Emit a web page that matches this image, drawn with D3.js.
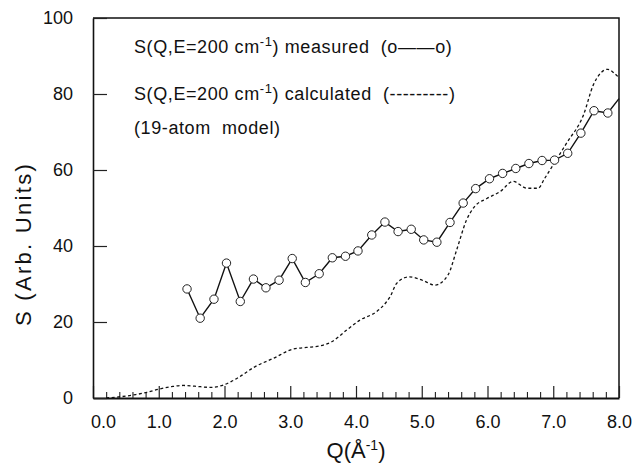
<!DOCTYPE html>
<html>
<head>
<meta charset="utf-8">
<script src="https://cdn.jsdelivr.net/npm/d3@7"></script>
<style>
  html, body { margin: 0; padding: 0; background: #fff; }
  svg { display: block; }
  .tick text { font-family: "Liberation Sans", Arial, sans-serif; font-size: 18px; fill: #111; }
  .legend { white-space: pre; }
</style>
</head>
<body>
<svg id="chart" width="641" height="467"></svg>
<script>
// Measured S(Q, E = 200 cm-1): momentum transfer Q (1/Å) and intensity
const measuredQ = [1.43, 1.63, 1.84, 2.03, 2.24, 2.44, 2.63, 2.83, 3.03, 3.23,
                   3.44, 3.64, 3.84, 4.03, 4.24, 4.44, 4.64, 4.84, 5.03, 5.23,
                   5.43, 5.63, 5.82, 6.03, 6.23, 6.43, 6.63, 6.83, 7.02, 7.22,
                   7.42, 7.62, 7.83];
const measuredS = [28.7, 21.0, 26.0, 35.5, 25.4, 31.3, 29.0, 31.0, 36.7, 30.4,
                   32.7, 36.9, 37.3, 38.7, 42.9, 46.3, 43.8, 44.4, 41.6, 41.0,
                   46.2, 51.3, 55.1, 57.7, 59.1, 60.4, 61.7, 62.5, 62.6, 64.4,
                   69.7, 75.6, 75.0];
// the measured trace runs on to the frame edge past the last circle
const measuredTailQ = 8.0;
const measuredTailS = 78.8;

// Calculated S(Q, E = 200 cm-1), 19-atom model
const calcQ = [0.2, 0.45, 0.65, 0.82, 1.02, 1.2, 1.37, 1.55, 1.78, 1.98,
               2.1, 2.23, 2.46, 2.74, 3.05, 3.25, 3.45, 3.63, 3.86, 4.06,
               4.31, 4.45, 4.52, 4.62, 4.81, 5.02, 5.2, 5.4, 5.53, 5.68,
               5.8, 5.99, 6.19, 6.39, 6.6, 6.77, 6.87, 7.03, 7.2, 7.46,
               7.61, 7.72, 7.83, 7.92, 8.0];
const calcS = [0.0, 0.4, 0.9, 1.5, 2.4, 3.0, 3.3, 3.1, 2.8, 3.4,
               4.3, 5.6, 8.2, 10.4, 12.9, 13.3, 13.7, 14.8, 17.9, 20.5,
               22.7, 25.0, 26.7, 30.2, 31.9, 30.9, 29.7, 32.4, 38.9, 46.8,
               50.3, 52.5, 54.3, 57.0, 55.2, 55.2, 57.8, 62.2, 67.0, 74.5,
               82.4, 85.5, 86.5, 85.6, 84.3];

const xTicks = [0, 1, 2, 3, 4, 5, 6, 7, 8];
const xTickLabels = ["0.0", "1.0", "2.0", "3.0", "4.0", "5.0", "6.0", "7.0", "8.0"];
const xMinorTicks = [0.2, 0.4, 0.6, 0.8, 1.2, 1.4, 1.6, 1.8, 2.2, 2.4, 2.6, 2.8,
                     3.2, 3.4, 3.6, 3.8, 4.2, 4.4, 4.6, 4.8, 5.2, 5.4, 5.6, 5.8,
                     6.2, 6.4, 6.6, 6.8, 7.2, 7.4, 7.6, 7.8];
const yTicks = [0, 20, 40, 60, 80, 100];
const yTickLabels = ["0", "20", "40", "60", "80", "100"];

const svg = d3.select("#chart");
const plotL = 93, plotR = 619, plotT = 18, plotB = 398;

const x = d3.scaleLinear().domain([0, 8]).range([plotL, plotR]);
const y = d3.scaleLinear().domain([0, 100]).range([plotB, plotT]);

// frame: top and right edges
svg.append("path")
  .attr("d", `M${plotL},${plotT}H${plotR}V${plotB}`)
  .attr("fill", "none").attr("stroke", "#111").attr("stroke-width", 1.5);

// x axis, major and minor ticks pointing into the plot
const xAxis = svg.append("g").attr("transform", `translate(0,${plotB})`)
  .call(d3.axisBottom(x).tickValues(xTicks)
    .tickFormat((d, i) => xTickLabels[i])
    .tickSizeInner(-12).tickSizeOuter(0).tickPadding(17));
xAxis.select(".domain").attr("stroke", "#111").attr("stroke-width", 2);
xAxis.selectAll(".tick line").attr("stroke", "#222").attr("stroke-width", 1.2);
// the first label sits clear of the corner
xAxis.selectAll(".tick text").filter(d => d === 0).attr("dx", 10);

const xMinor = svg.append("g").attr("transform", `translate(0,${plotB})`)
  .call(d3.axisBottom(x).tickValues(xMinorTicks).tickFormat("")
    .tickSizeInner(-6).tickSizeOuter(0));
xMinor.select(".domain").remove();
xMinor.selectAll(".tick line").attr("stroke", "#222").attr("stroke-width", 1.1);

// y axis
const yAxis = svg.append("g").attr("transform", `translate(${plotL},0)`)
  .call(d3.axisLeft(y).tickValues(yTicks)
    .tickFormat((d, i) => yTickLabels[i])
    .tickSizeInner(-14).tickSizeOuter(0).tickPadding(20));
yAxis.select(".domain").attr("stroke", "#111").attr("stroke-width", 1.6);
yAxis.selectAll(".tick line").attr("stroke", "#222").attr("stroke-width", 1.2);

// axis titles
svg.append("text")
  .attr("transform", `translate(31,244) rotate(-90)`)
  .attr("text-anchor", "middle")
  .style("font-family", "Liberation Sans, Arial, sans-serif")
  .style("font-size", "22px").style("letter-spacing", "2.3px")
  .attr("fill", "#111")
  .text("S (Arb. Units)");

const xTitle = svg.append("text")
  .attr("x", x(4)).attr("y", 458)
  .attr("text-anchor", "middle")
  .style("font-family", "Liberation Sans, Arial, sans-serif")
  .style("font-size", "22px")
  .attr("fill", "#111");
xTitle.append("tspan").text("Q(Å");
xTitle.append("tspan").attr("dy", -8).style("font-size", "14px").text("-1");
xTitle.append("tspan").attr("dy", 8).text(")");

// calculated curve (dashed)
const calc = calcQ.map((q, i) => [q, calcS[i]]);
svg.append("path")
  .datum(calc)
  .attr("fill", "none").attr("stroke", "#111")
  .attr("stroke-width", 1.3).attr("stroke-dasharray", "3,2.5")
  .attr("d", d3.line().x(d => x(d[0])).y(d => y(d[1])).curve(d3.curveMonotoneX));

// measured trace with open circles
const measured = measuredQ.map((q, i) => [q, measuredS[i]]);
svg.append("path")
  .datum(measured.concat([[measuredTailQ, measuredTailS]]))
  .attr("fill", "none").attr("stroke", "#111").attr("stroke-width", 1.4)
  .attr("d", d3.line().x(d => x(d[0])).y(d => y(d[1])));
svg.append("g").selectAll("circle")
  .data(measured).join("circle")
  .attr("cx", d => x(d[0])).attr("cy", d => y(d[1])).attr("r", 4.2)
  .attr("fill", "#fff").attr("stroke", "#222").attr("stroke-width", 1);

// legend text
const legendFont = "Liberation Sans, Arial, sans-serif";
function legendLine(yPos, parts) {
  const t = svg.append("text").attr("class", "legend")
    .attr("x", 134).attr("y", yPos)
    .style("font-family", legendFont).style("font-size", "18px")
    .style("letter-spacing", "0.6px").attr("fill", "#111");
  parts.forEach(p => {
    const s = t.append("tspan").text(p.text);
    if (p.sup) s.attr("dy", -7).style("font-size", "13px");
    if (p.down) s.attr("dy", 7);
  });
  return t;
}
legendLine(53, [
  { text: "S(Q,E=200 cm" }, { text: "-1", sup: true },
  { text: ") measured  (o——o)", down: true }
]);
legendLine(100, [
  { text: "S(Q,E=200 cm" }, { text: "-1", sup: true },
  { text: ") calculated  (---------)", down: true }
]);
legendLine(134, [{ text: "(19-atom  model)" }]);
</script>
</body>
</html>
